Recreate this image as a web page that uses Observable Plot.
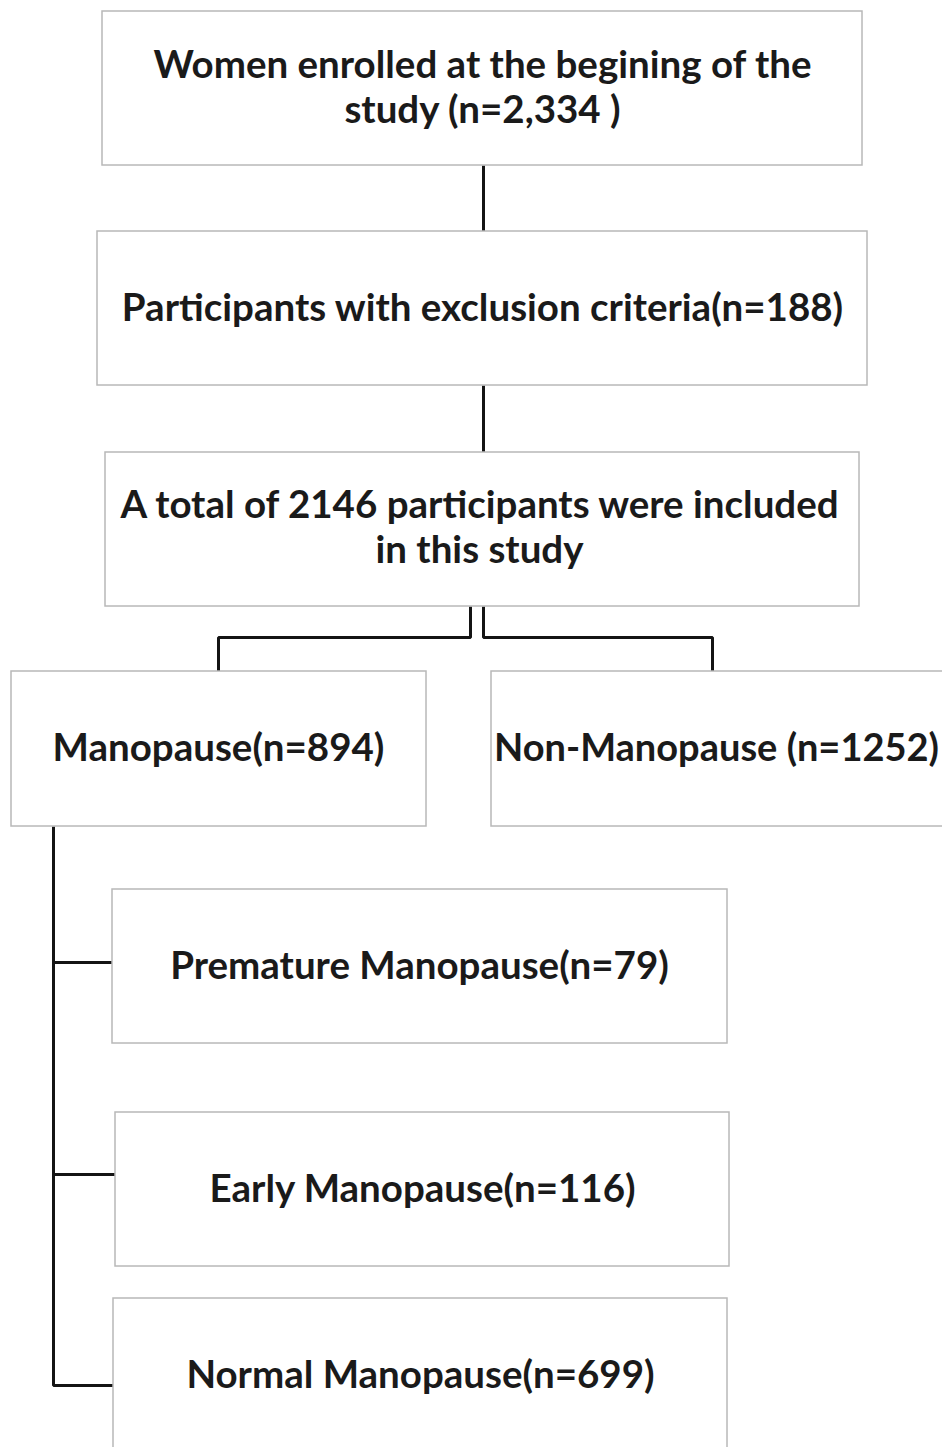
<!DOCTYPE html>
<html>
<head>
<meta charset="utf-8">
<script src="https://cdn.jsdelivr.net/npm/d3@7"></script>
<script src="https://cdn.jsdelivr.net/npm/@observablehq/plot@0.6"></script>
<style>
  html, body { margin: 0; padding: 0; background: #fff; }
  #chart svg { display: block; }
</style>
</head>
<body>
<div id="chart"></div>
<script>
// ---- data ----
const stages = [
  "Women enrolled at the begining of the\nstudy (n=2,334 )",
  "Participants with exclusion criteria(n=188)",
  "A total of 2146 participants were included\nin this study",
  "Manopause(n=894)",
  "Non-Manopause (n=1252)",
  "Premature Manopause(n=79)",
  "Early Manopause(n=116)",
  "Normal Manopause(n=699)"
];
const counts = [2334, 188, 2146, 894, 1252, 79, 116, 699];

// ---- layout (diagram geometry) ----
const boxX1 = [102, 97, 105, 11, 491, 112, 115, 113];
const boxX2 = [862, 867, 859, 426, 990, 727, 729, 727];
const boxY1 = [11, 231, 452, 671, 671, 889, 1112, 1298];
const boxY2 = [165, 385, 606, 826, 826, 1043, 1266, 1470];
const textX = [482, 482, 479, 218, 716, 419, 422, 420];
const textY = [86, 306, 526, 746, 746, 964, 1187, 1373];
const textSize = [38.5, 38.5, 38.5, 38.5, 38, 38.5, 38.5, 38.5];

// connector polylines: [id, x, y]
const connectors = [
  ["a", 483, 165], ["a", 483, 231],
  ["b", 483, 385], ["b", 483, 452],
  ["c", 470, 606], ["c", 470, 637], ["c", 218, 637], ["c", 218, 671],
  ["d", 483, 606], ["d", 483, 637], ["d", 712, 637], ["d", 712, 671],
  ["e", 53, 826], ["e", 53, 1385], ["e", 113, 1385],
  ["f", 53, 962], ["f", 112, 962],
  ["g", 53, 1174], ["g", 115, 1174]
].map(([id, x, y]) => ({id, x, y}));

const boxes = stages.map((label, i) => ({
  label, n: counts[i],
  x1: boxX1[i], x2: boxX2[i], y1: boxY1[i], y2: boxY2[i],
  tx: textX[i], ty: textY[i], fs: textSize[i]
}));

const W = 942, H = 1447;
const chart = Plot.plot({
  width: W, height: H,
  margin: 0,
  x: {domain: [0, W], range: [0, W], axis: null},
  y: {domain: [0, H], range: [0, H], axis: null},
  style: {background: "#fff"},
  marks: [
    Plot.line(connectors, {x: "x", y: "y", z: "id", stroke: "#141414", strokeWidth: 3, strokeLinejoin: "miter", strokeLinecap: "butt", clip: true}),
    Plot.rect(boxes, {x1: "x1", x2: "x2", y1: "y1", y2: "y2", fill: "#fff", stroke: "#b8b8b8", strokeWidth: 1.5, clip: true}),
    Plot.text(boxes, {x: "tx", y: "ty", text: "label", fontSize: "fs", lineHeight: 1.17,
      fontFamily: "Lato", fontWeight: "bold", fill: "#1a1a1a", textAnchor: "middle", lineAnchor: "middle"})
  ]
});
document.getElementById("chart").appendChild(chart);
</script>
</body>
</html>
